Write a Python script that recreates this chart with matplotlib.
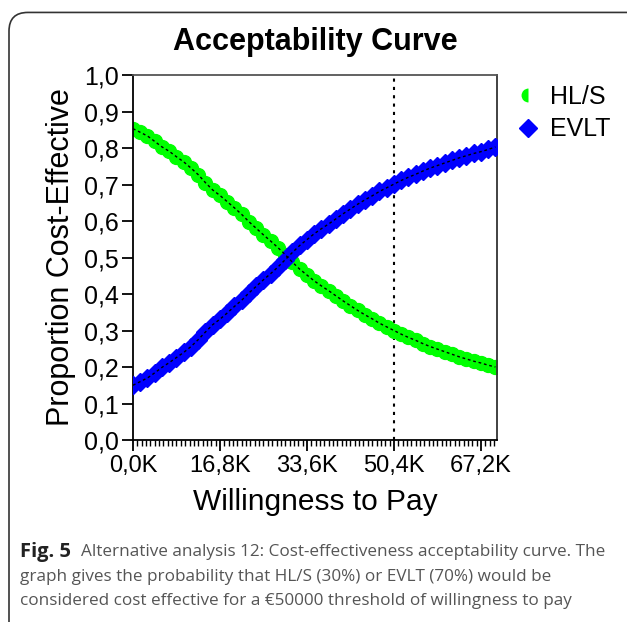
import matplotlib.pyplot as plt
from matplotlib.patches import FancyBboxPatch
from matplotlib.ticker import MultipleLocator, FuncFormatter

# willingness to pay (thousands of euro)
wtp = [i * 1.4 for i in range(51)]

hls = [0.853, 0.843, 0.833, 0.818, 0.803, 0.791, 0.776, 0.762, 0.745, 0.727,
       0.705, 0.685, 0.670, 0.653, 0.636, 0.618, 0.598, 0.580, 0.562, 0.545,
       0.527, 0.508, 0.487, 0.468, 0.452, 0.436, 0.422, 0.409, 0.395, 0.381,
       0.368, 0.355, 0.343, 0.332, 0.320, 0.310, 0.300, 0.290, 0.281, 0.273,
       0.264, 0.256, 0.249, 0.242, 0.235, 0.228, 0.222, 0.216, 0.211, 0.205,
       0.200]

evlt = [0.150, 0.160, 0.170, 0.184, 0.199, 0.212, 0.226, 0.240, 0.256, 0.275,
        0.296, 0.316, 0.331, 0.348, 0.366, 0.383, 0.403, 0.421, 0.439, 0.456,
        0.474, 0.494, 0.514, 0.533, 0.549, 0.565, 0.579, 0.592, 0.606, 0.620,
        0.633, 0.646, 0.658, 0.669, 0.681, 0.691, 0.701, 0.711, 0.720, 0.728,
        0.737, 0.745, 0.752, 0.759, 0.766, 0.773, 0.779, 0.785, 0.790, 0.796,
        0.803]

threshold = 50.4
xticks = [0, 16.8, 33.6, 50.4, 67.2]

plt.rcParams['font.family'] = ['Liberation Sans', 'DejaVu Sans']

fig = plt.figure(figsize=(6.27, 6.22), dpi=100)
ax = fig.add_axes([0.2121, 0.2926, 0.5805, 0.5868])

ax.plot(wtp, hls, 'o', color='#00ff00', ms=10, mec='#00ff00', label='HL/S', zorder=2)
ax.plot(wtp, evlt, 'D', color='#0000ff', ms=9, mec='#0000ff', label='EVLT', zorder=3)
ax.plot(wtp, hls, color='black', lw=1, ls=(0, (2, 2)), zorder=4)
ax.plot(wtp, evlt, color='black', lw=1, ls=(0, (2, 2)), zorder=4)
ax.axvline(threshold, color='black', lw=1.5, ls=(0, (1.5, 2.5)), zorder=1)

ax.set_xlim(0, 70.3)
ax.set_ylim(0, 1.0)
ax.set_xticks(xticks)
ax.xaxis.set_minor_locator(MultipleLocator(0.84))
ax.yaxis.set_major_locator(MultipleLocator(0.1))
ax.xaxis.set_major_formatter(FuncFormatter(lambda v, p: ('%.1fK' % v).replace('.', ',')))
ax.yaxis.set_major_formatter(FuncFormatter(lambda v, p: ('%.1f' % v).replace('.', ',')))
ax.tick_params(axis='both', direction='out', length=8, width=1.3, colors='black')
ax.tick_params(axis='x', which='minor', direction='out', length=4, width=1)
ax.tick_params(axis='x', labelsize=17, pad=3)
ax.tick_params(axis='y', labelsize=18, pad=2)
for s in ax.spines.values():
    s.set_linewidth(1.3)
ax.spines['top'].set_color('#555555')
ax.spines['right'].set_color('#333333')

ax.set_xlabel('Willingness to Pay', fontsize=21.5, labelpad=8)
ax.set_ylabel('Proportion Cost-Effective', fontsize=22, labelpad=6)
ax.set_title('Acceptability Curve', fontsize=22, fontweight='bold', pad=18)

leg = ax.legend(loc='upper left', bbox_to_anchor=(0.786, 0.9),
                bbox_transform=fig.transFigure, frameon=False,
                fontsize=18, handletextpad=0.4, labelspacing=0.35,
                handlelength=1.0)
leg.legend_handles[0].set_fillstyle('left')
leg.legend_handles[0].set_markeredgecolor('none')

# caption box
box = FancyBboxPatch((9 / 627, -0.05), 1.2, 1.03, boxstyle='round,pad=0,rounding_size=0.03',
                     transform=fig.transFigure, fill=False, edgecolor='#333333', lw=1.2,
                     clip_on=False)
fig.add_artist(box)

cap_font = ['Open Sans', 'DejaVu Sans']
fig.text(20 / 627, 1 - 552 / 622, 'Fig. 5', fontsize=14.5, fontweight='bold',
         color='#222222', family=cap_font, va='center')
fig.text(81 / 627, 1 - 552 / 622,
         'Alternative analysis 12: Cost-effectiveness acceptability curve. The',
         fontsize=12.3, color='#555555', family=cap_font, va='center')
fig.text(20 / 627, 1 - 577 / 622,
         'graph gives the probability that HL/S (30%) or EVLT (70%) would be',
         fontsize=12.3, color='#555555', family=cap_font, va='center')
fig.text(20 / 627, 1 - 601 / 622,
         'considered cost effective for a \u20ac50000 threshold of willingness to pay',
         fontsize=12.3, color='#555555', family=cap_font, va='center')

fig.savefig('out.png', dpi=100)
